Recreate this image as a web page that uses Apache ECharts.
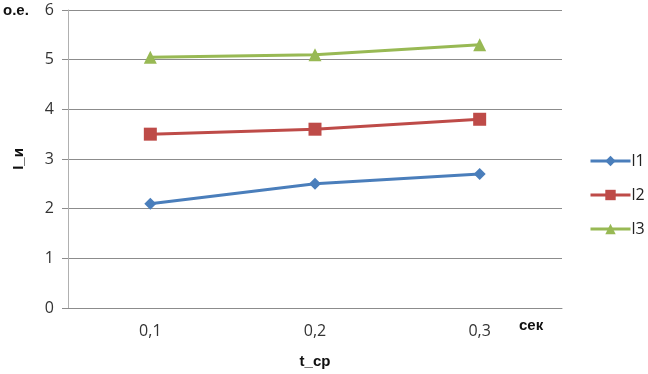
<!DOCTYPE html>
<html>
<head>
<meta charset="utf-8">
<script src="https://cdn.jsdelivr.net/npm/echarts@6/dist/echarts.min.js"></script>
<style>
  html, body { margin: 0; padding: 0; background: #fff; }
  #chart { width: 648px; height: 374px; }
</style>
</head>
<body>
<div id="chart"></div>
<script>
// data
const categories = ['0,1', '0,2', '0,3'];
const l1 = [2.1, 2.5, 2.7];
const l2 = [3.5, 3.6, 3.8];
const l3 = [5.05, 5.1, 5.3];
const yTicks = [0, 1, 2, 3, 4, 5, 6];

const myChart = echarts.init(document.getElementById('chart'));

const labelFont = '"Open Sans", Lato, sans-serif';
const boldFont = '"Liberation Sans", Arial, sans-serif';

const option = {
  animation: false,
  grid: { left: 68, right: 86, top: 10, bottom: 66 },
  legend: {
    orient: 'vertical',
    left: 584,
    top: 148,
    itemGap: 18,
    itemWidth: 40,
    itemHeight: 13,
    lineStyle: { width: 3 },
    textStyle: { fontFamily: labelFont, fontSize: 16, color: '#222', padding: [0, 0, 0, -4] },
    data: ['l1', 'l2', 'l3']
  },
  xAxis: {
    type: 'category',
    data: categories,
    boundaryGap: true,
    name: 't_ср',
    nameLocation: 'middle',
    nameGap: 46,
    nameTextStyle: { fontFamily: boldFont, fontWeight: 'bold', fontSize: 15, color: '#111' },
    axisLine: { show: true, lineStyle: { color: '#8c8c8c', width: 1 } },
    axisTick: { show: false },
    axisLabel: { fontFamily: labelFont, fontSize: 16, color: '#333', margin: 15 }
  },
  yAxis: {
    type: 'value',
    min: yTicks[0],
    max: yTicks[yTicks.length - 1],
    interval: 1,
    name: 'I_и',
    nameLocation: 'middle',
    nameRotate: 90,
    nameGap: 42,
    nameTextStyle: { fontFamily: boldFont, fontWeight: 'bold', fontSize: 15, color: '#111' },
    axisLine: { show: true, lineStyle: { color: '#b0b0b0', width: 1 } },
    axisTick: { show: true, length: 6, lineStyle: { color: '#8c8c8c' } },
    axisLabel: { fontFamily: labelFont, fontSize: 16, color: '#333', margin: 14 },
    splitLine: { show: true, lineStyle: { color: '#8c8c8c', width: 1 } }
  },
  graphic: [
    {
      type: 'text',
      left: 3,
      top: 3,
      style: { text: 'o.e.', fontFamily: boldFont, fontWeight: 'bold', fontSize: 15, fill: '#111' }
    },
    {
      type: 'text',
      left: 519,
      top: 318,
      style: { text: 'сек', fontFamily: boldFont, fontWeight: 'bold', fontSize: 15, fill: '#111' }
    }
  ],
  series: [
    {
      name: 'l1',
      type: 'line',
      data: l1,
      symbol: 'diamond',
      symbolSize: 12,
      lineStyle: { color: '#4a7ebb', width: 3 },
      itemStyle: { color: '#4a7ebb' }
    },
    {
      name: 'l2',
      type: 'line',
      data: l2,
      symbol: 'rect',
      symbolSize: 13,
      lineStyle: { color: '#be4b48', width: 3 },
      itemStyle: { color: '#be4b48' }
    },
    {
      name: 'l3',
      type: 'line',
      data: l3,
      symbol: 'triangle',
      symbolSize: 13,
      lineStyle: { color: '#98b954', width: 3 },
      itemStyle: { color: '#98b954' }
    }
  ]
};

myChart.setOption(option);
</script>
</body>
</html>
